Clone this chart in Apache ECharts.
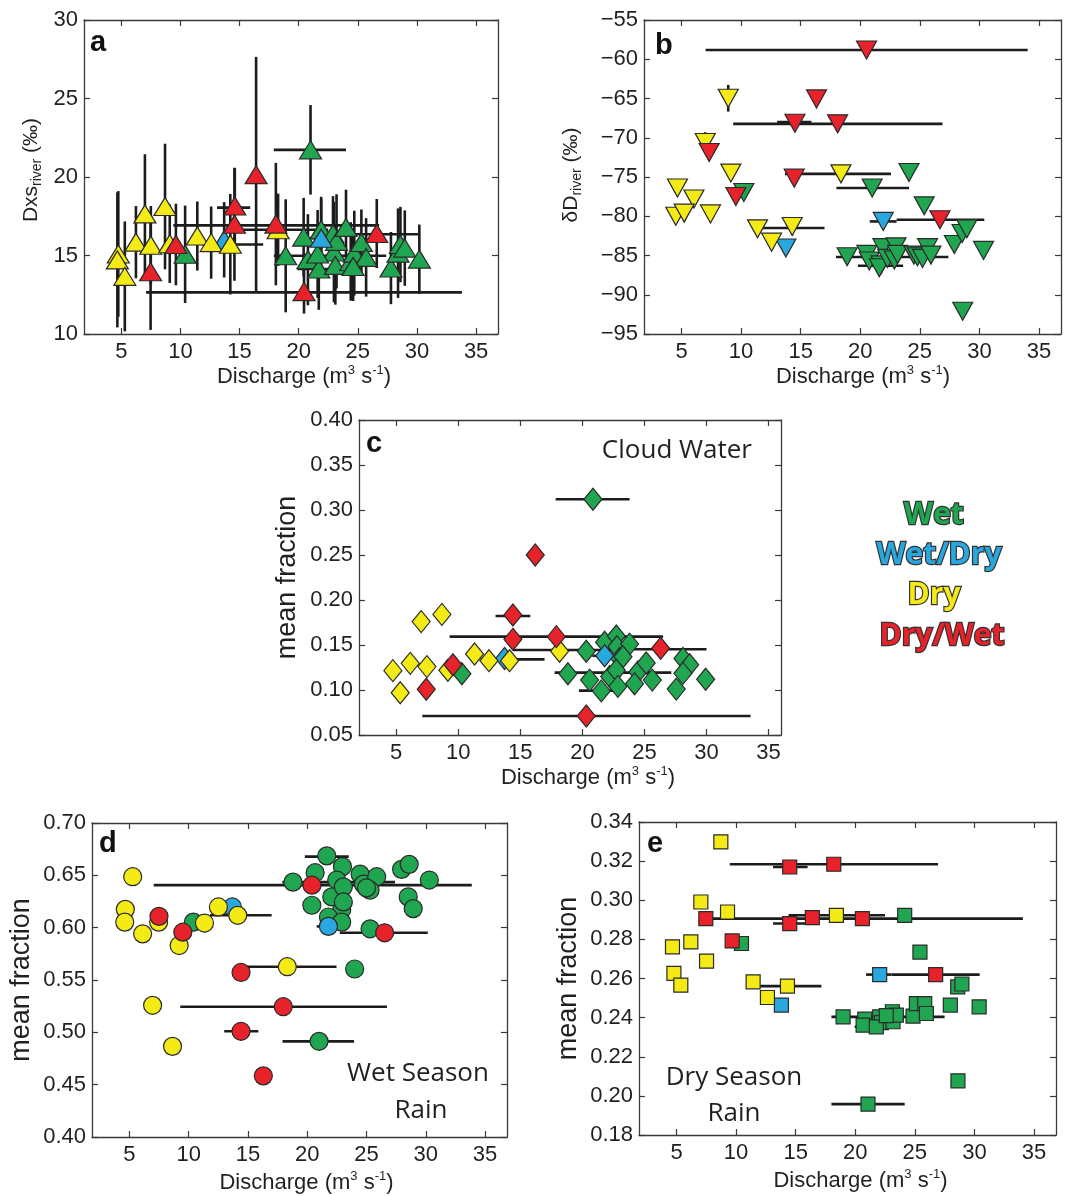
<!DOCTYPE html>
<html><head><meta charset="utf-8">
<script src="https://cdn.jsdelivr.net/npm/echarts@6/dist/echarts.min.js"></script>
<style>html,body{margin:0;padding:0;background:#fff}#c{width:1075px;height:1196px}</style>
</head><body><div id="c"></div>
<script>
// ---------------- DATA ----------------
const xTicks = [5, 10, 15, 20, 25, 30, 35];
const aYTicks = [10, 15, 20, 25, 30];
const bYTicks = [-95, -90, -85, -80, -75, -70, -65, -60, -55];
const cYTicks = [0.05, 0.10, 0.15, 0.20, 0.25, 0.30, 0.35, 0.40];
const dYTicks = [0.40, 0.45, 0.50, 0.55, 0.60, 0.65, 0.70];
const eYTicks = [0.18, 0.20, 0.22, 0.24, 0.26, 0.28, 0.30, 0.32, 0.34];
const categories = ['Wet', 'Wet/Dry', 'Dry', 'Dry/Wet'];

// Panel a: [discharge, Dxs, y-error half width]
const aWet = [[21.0,21.73,2.85],[10.4,15.08,3.1],[18.9,14.98,3.6],[20.42,16.17,2.5],[20.78,14.73,2.9],[21.7,14.14,2.6],[21.9,16.64,2.1],[22.9,16.38,2.4],[22.98,15.22,3.2],[23.1,14.37,2.5],[23.2,15.9,3.0],[24.0,16.79,2.4],[24.4,14.62,2.5],[24.7,15.15,2.7],[25.3,15.83,2.1],[25.7,14.88,2.5],[27.8,14.2,2.3],[28.4,15.15,2.85],[28.6,15.7,2.4],[28.97,15.47,2.4],[30.2,14.77,2.2],[21.6,15.1,2.8],[24.6,14.3,2.2]];
const aWetDry = [[13.7,16.0,2.4],[21.9,16.1,2.5]];
const aDry = [[4.75,15.1,4.0],[4.67,14.72,4.3],[5.3,13.67,3.5],[6.24,15.85,2.3],[7.0,17.65,3.8],[7.5,15.65,2.5],[8.7,18.12,4.0],[9.1,15.75,2.5],[11.43,16.24,2.2],[12.6,15.82,2.3],[14.22,15.72,3.2],[18.26,16.64,2.3]];
const aDryWet = [[7.48,13.96,3.7],[9.62,15.7,2.6],[14.6,18.15,2.4],[14.57,16.99,3.6],[18.07,17.0,3.9],[16.4,20.15,7.5],[20.45,12.7,1.4],[26.6,16.4,2.2]];
// horizontal error bars: [y, xLow, xHigh]
const aXErr = [[21.73,17.9,24.0],[12.65,7.1,33.8],[16.92,9.4,26.8],[16.64,14.4,22.5],[16.35,23.0,30.2],[18.05,13.1,15.9],[15.7,11.8,17.0],[14.98,17.9,27.4],[16.1,20.8,23.05],[14.14,19.9,23.6]];

// Panel b: [discharge, dD, y-error half width]
const bWet = [[10.23,-76.97,0],[24.09,-74.43,0],[21.0,-76.4,0],[25.37,-78.67,0],[27.9,-83.6,0],[28.55,-82.2,0],[28.95,-81.6,0],[30.35,-84.35,0],[28.6,-92.1,0],[18.9,-85.16,0.6],[20.56,-84.86,0],[20.76,-85.7,0],[21.74,-86.2,0],[21.6,-86.56,0],[21.9,-84.0,0],[22.3,-85.37,0],[22.86,-85.58,0],[23.0,-83.9,0],[23.14,-84.86,0],[24.5,-84.95,0],[24.8,-85.16,0],[25.23,-85.37,0],[25.65,-84.0,0],[25.93,-84.95,0]];
const bWetDry = [[13.76,-84.05,0],[21.93,-80.66,0]];
const bDry = [[8.92,-64.97,1.7],[6.99,-70.6,1.3],[9.14,-74.5,0],[4.66,-76.4,0.9],[6.04,-77.8,0],[4.52,-80.0,0],[5.22,-79.6,1.0],[7.43,-79.7,0],[11.38,-81.6,0],[14.29,-81.3,1.1],[12.56,-83.3,0],[18.38,-74.6,0]];
const bDryWet = [[20.53,-58.82,0],[16.33,-65.05,0],[14.52,-68.15,0],[18.1,-68.23,0],[7.32,-71.88,0],[14.46,-75.15,0],[9.56,-77.48,0],[26.69,-80.45,0]];
const bXErr = [[-58.82,7.02,34.05],[-68.0,13.03,15.9],[-68.23,9.34,26.9],[-74.6,13.68,22.58],[-76.4,18.0,24.1],[-80.66,20.8,23.05],[-80.45,23.05,30.41],[-81.5,11.6,17.0],[-85.2,17.96,27.4],[-86.3,19.8,23.6]];

// Panel c: cloud water mean fraction
const cWet = [[20.85,0.312],[10.29,0.118],[18.83,0.118],[20.31,0.143],[20.58,0.111],[21.52,0.099],[21.79,0.153],[22.73,0.160],[22.78,0.148],[23.8,0.151],[23.0,0.135],[23.27,0.137],[22.2,0.115],[22.73,0.122],[22.86,0.104],[24.47,0.120],[25.14,0.130],[24.2,0.107],[25.63,0.111],[28.1,0.135],[28.64,0.128],[28.1,0.1185],[27.56,0.101],[29.93,0.112]];
const cWetDry = [[13.73,0.135],[21.79,0.138]];
const cDry = [[4.73,0.1215],[5.32,0.097],[6.13,0.1296],[7.01,0.176],[7.47,0.126],[8.68,0.184],[9.16,0.122],[11.31,0.140],[12.47,0.1326],[14.13,0.1326],[18.16,0.143]];
const cDryWet = [[7.42,0.1008],[9.57,0.128],[14.4,0.1833],[14.4,0.1563],[16.2,0.250],[17.9,0.1593],[26.3,0.1463],[20.31,0.0711]];
const cXErr = [[0.312,17.84,23.8],[0.1822,13.0,15.8],[0.1593,9.3,26.5],[0.1445,14.4,22.6],[0.1452,23.0,30.0],[0.134,11.8,16.95],[0.138,20.8,23.0],[0.1193,17.76,27.16],[0.0993,19.72,23.27],[0.0711,7.1,33.55]];

// Panel d: wet season rain mean fraction
const dWet = [[21.0,0.4914],[10.4,0.6053],[18.8,0.6435],[20.67,0.6525],[20.39,0.6214],[21.65,0.6686],[22.97,0.6583],[22.49,0.6455],[22.07,0.6294],[22.91,0.6172],[21.79,0.6102],[22.91,0.6053],[24.46,0.6512],[24.74,0.6416],[25.86,0.6487],[25.3,0.6358],[25.0,0.638],[23.05,0.639],[27.96,0.6557],[28.6,0.6605],[28.52,0.6294],[28.94,0.6182],[30.3,0.6455],[25.3,0.5989],[24.0,0.5605],[23.05,0.6246]];
const dWetDry = [[13.69,0.6198],[21.79,0.6012]];
const dDry = [[5.28,0.6487],[4.66,0.6175],[4.61,0.6053],[6.12,0.5941],[7.47,0.6053],[9.2,0.5829],[11.34,0.6044],[12.51,0.6198],[14.14,0.6118],[18.32,0.5627],[6.96,0.5258],[8.64,0.4866]];
const dDryWet = [[7.5,0.6108],[9.51,0.5957],[14.42,0.5572],[14.42,0.501],[17.98,0.5245],[16.3,0.4584],[20.4,0.6406],[26.53,0.5951]];
const dXErr = [[0.6679,19.8,23.5],[0.6406,7.05,33.88],[0.6435,17.9,27.4],[0.6118,11.8,17.0],[0.6012,20.8,23.05],[0.5951,22.75,30.17],[0.5627,14.34,22.47],[0.5245,9.29,26.73],[0.501,13.0,15.88],[0.4914,17.92,23.95]];

// Panel e: dry season rain mean fraction
const eWet = [[10.45,0.2779],[24.15,0.2923],[25.43,0.2735],[28.6,0.2557],[28.95,0.2572],[27.98,0.2464],[30.4,0.2455],[28.62,0.2077],[21.07,0.1958],[18.98,0.2404],[20.8,0.2392],[20.66,0.2362],[22.05,0.2404],[22.19,0.2374],[21.77,0.2353],[23.12,0.243],[23.17,0.2379],[23.45,0.2413],[22.6,0.241],[24.85,0.2408],[25.13,0.2472],[25.83,0.2472],[25.97,0.2421]];
const eWetDry = [[22.05,0.262],[13.8,0.2464]];
const eDry = [[8.72,0.3298],[7.04,0.2991],[9.28,0.294],[6.2,0.2787],[4.66,0.2762],[7.52,0.2689],[4.78,0.2626],[5.36,0.2566],[11.43,0.2583],[14.31,0.2561],[12.63,0.2503],[18.42,0.2923]];
const eDryWet = [[14.5,0.317],[18.2,0.3184],[7.46,0.2906],[14.5,0.2881],[16.4,0.2911],[20.6,0.2906],[9.67,0.2792],[26.75,0.262]];
const eXErr = [[0.317,13.1,16.0],[0.3184,9.47,26.95],[0.2906,7.05,34.07],[0.2923,14.4,22.5],[0.2881,13.1,16.0],[0.262,20.9,23.05],[0.262,23.05,30.44],[0.2561,11.57,17.16],[0.2404,18.0,27.5],[0.2353,19.95,23.73],[0.1958,18.0,24.15]];

// ---------------- STYLE / LAYOUT ----------------
const FONT = '"Liberation Sans", Arial, Helvetica, sans-serif';
const HFONT = '"Open Sans", "Noto Sans", sans-serif';
const TXT = '#231f20';
const AX = '#3a3a3a';
const BAR = '#1c1c1c';
const COLORS = {'Wet':'#20a550','Wet/Dry':'#29a8df','Dry':'#f4eb16','Dry/Wet':'#e8222a'};
const xName = '{n|Discharge (m}{p|3}{n| s}{p|-1}{n|)}';
const xRich = {
  n: {fontFamily: FONT, fontSize: 22, lineHeight: 26, color: TXT},
  p: {fontFamily: FONT, fontSize: 13, lineHeight: 13, color: TXT, verticalAlign: 'top'}
};
const subRich = {
  m: {fontFamily: FONT, fontSize: 21, lineHeight: 25, color: TXT},
  s: {fontFamily: FONT, fontSize: 14, lineHeight: 14, color: TXT, verticalAlign: 'bottom'}
};
const fmt2 = v => v.toFixed(2);
const fmtNeg = v => (v < 0 ? '\u2212' + Math.abs(v) : String(v));

const panels = [
  {grid:{left:84,top:20,width:414,height:314}, xmin:1.85, xmax:36.85, ymin:10, ymax:30, yTicks:aYTicks, fmt:v=>String(v),
   symbol:'triangle', size:[22,18], rot:0, sets:[aWet,aWetDry,aDry,aDryWet], xErr:aXErr, vert:true,
   yName:'{m|Dxs}{s|river}{m| (\u2030)}', yRich:subRich, yGap:40, yPad:[0,0,0,14], xGap:30, xPad:[0,0,0,26]},
  {grid:{left:644,top:20,width:417,height:314}, xmin:1.85, xmax:36.85, ymin:-95, ymax:-55, yTicks:bYTicks, fmt:fmtNeg,
   symbol:'triangle', size:[20,18], rot:180, sets:[bWet,bWetDry,bDry,bDryWet], xErr:bXErr, vert:true,
   yName:'{m|\u03b4D}{s|river}{m| (\u2030)}', yRich:subRich, yGap:60, yPad:[0,0,0,4], xGap:30, xPad:[0,0,0,21]},
  {grid:{left:359,top:420,width:422,height:315}, xmin:2, xmax:36, ymin:0.05, ymax:0.40, yTicks:cYTicks, fmt:fmt2,
   symbol:'diamond', size:[18,22], rot:0, sets:[cWet,cWetDry,cDry,cDryWet], xErr:cXErr, vert:false,
   yName:'mean fraction', yRich:null, yGap:58, yPad:[0,0,0,0], xGap:30, xPad:[0,0,0,36]},
  {grid:{left:92,top:823,width:415,height:314}, xmin:1.85, xmax:36.85, ymin:0.40, ymax:0.70, yTicks:dYTicks, fmt:fmt2,
   symbol:'circle', size:18, rot:0, sets:[dWet,dWetDry,dDry,dDryWet], xErr:dXErr, vert:false,
   yName:'mean fraction', yRich:null, yGap:57, yPad:[0,0,0,0], xGap:33, xPad:[0,0,0,14]},
  {grid:{left:639,top:822,width:417,height:313}, xmin:1.85, xmax:36.85, ymin:0.18, ymax:0.34, yTicks:eYTicks, fmt:fmt2,
   symbol:'rect', size:14, rot:0, sets:[eWet,eWetDry,eDry,eDryWet], xErr:eXErr, vert:false,
   yName:'mean fraction', yRich:null, yGap:57, yPad:[0,0,0,0], xGap:33, xPad:[0,0,0,26]}
];

const grids = [], xAxes = [], yAxes = [], series = [];
panels.forEach((p, i) => {
  grids.push(Object.assign({show:false}, p.grid));
  const tickBase = {show:true, inside:true, length:6, lineStyle:{color:AX, width:1.2}};
  const lineBase = {show:true, onZero:false, lineStyle:{color:AX, width:1.3}};
  xAxes.push({type:'value', gridIndex:i, position:'bottom', min:p.xmin, max:p.xmax,
    axisLine:lineBase, axisTick:Object.assign({customValues:xTicks}, tickBase),
    axisLabel:{customValues:xTicks, fontFamily:FONT, fontSize:22, color:TXT, margin:7},
    splitLine:{show:false}, name:xName, nameLocation:'middle', nameGap:p.xGap,
    nameTextStyle:{fontFamily:FONT, fontSize:22, color:TXT, rich:xRich, padding:p.xPad}});
  xAxes.push({type:'value', gridIndex:i, position:'top', min:p.xmin, max:p.xmax,
    axisLine:lineBase, axisTick:Object.assign({customValues:xTicks}, tickBase),
    axisLabel:{show:false}, splitLine:{show:false}});
  const yNameStyle = p.yRich ? {fontFamily:FONT, fontSize:21, color:TXT, rich:p.yRich, padding:p.yPad}
                             : {fontFamily:FONT, fontSize:27, color:TXT, padding:p.yPad};
  yAxes.push({type:'value', gridIndex:i, position:'left', min:p.ymin, max:p.ymax,
    axisLine:lineBase, axisTick:Object.assign({customValues:p.yTicks}, tickBase),
    axisLabel:{customValues:p.yTicks, formatter:p.fmt, fontFamily:FONT, fontSize:22, color:TXT, margin:6},
    splitLine:{show:false}, name:p.yName, nameLocation:'middle', nameGap:p.yGap, nameTextStyle:yNameStyle});
  yAxes.push({type:'value', gridIndex:i, position:'right', min:p.ymin, max:p.ymax,
    axisLine:lineBase, axisTick:Object.assign({customValues:p.yTicks}, tickBase),
    axisLabel:{show:false}, splitLine:{show:false}});

  // horizontal error bars
  series.push({type:'custom', xAxisIndex:2*i, yAxisIndex:2*i, data:p.xErr, encode:{x:[1,2], y:0},
    z:1, silent:true, clip:false,
    renderItem:(params, api) => {
      const y = api.value(0);
      const a = api.coord([api.value(1), y]);
      const b = api.coord([api.value(2), y]);
      return {type:'line', shape:{x1:a[0], y1:a[1], x2:b[0], y2:b[1]}, style:{stroke:BAR, lineWidth:2.6}};
    }});
  // vertical error bars
  if (p.vert) {
    const vdata = [];
    p.sets.forEach(s => s.forEach(d => { if (d[2] > 0) vdata.push([d[0], d[1] - d[2], d[1] + d[2]]); }));
    series.push({type:'custom', xAxisIndex:2*i, yAxisIndex:2*i, data:vdata, encode:{x:0, y:[1,2]},
      z:1, silent:true, clip:false,
      renderItem:(params, api) => {
        const x = api.value(0);
        const a = api.coord([x, api.value(1)]);
        const b = api.coord([x, api.value(2)]);
        return {type:'line', shape:{x1:a[0], y1:a[1], x2:b[0], y2:b[1]}, style:{stroke:BAR, lineWidth:2.6}};
      }});
  }
  p.sets.forEach((s, k) => {
    series.push({type:'scatter', name:categories[k], xAxisIndex:2*i, yAxisIndex:2*i,
      data:s.map(d => [d[0], d[1]]), symbol:p.symbol, symbolSize:p.size, symbolRotate:p.rot,
      itemStyle:{color:COLORS[categories[k]], borderColor:'#2a2a2a', borderWidth:1.2, opacity:1},
      z:3 + k, silent:true});
  });
});

const letters = [['a',90,43],['b',655,46],['c',366,444],['d',99,844],['e',647,844]];
const graphic = [];
letters.forEach(l => graphic.push({type:'text', x:l[1], y:l[2], z:10,
  style:{text:l[0], fill:'#111', font:'bold 29px ' + FONT, align:'left', verticalAlign:'middle'}}));
const notes = [['Cloud Water',752,451,'right'],['Wet Season',418,1074,'center'],['Rain',421,1111,'center'],
               ['Dry Season',734,1078,'center'],['Rain',734,1114,'center']];
notes.forEach(n => graphic.push({type:'text', x:n[1], y:n[2], z:10,
  style:{text:n[0], fill:TXT, font:'26px ' + HFONT, align:n[3], verticalAlign:'middle'}}));
const legendPos = [[934,515],[939,555],[934,595],[942,636]];
categories.forEach((c, k) => graphic.push({type:'text', x:legendPos[k][0], y:legendPos[k][1], z:10,
  style:{text:c, fill:COLORS[c], font:'bold 30px ' + HFONT, align:'center', verticalAlign:'middle',
         stroke:'#333', lineWidth:2.4, strokeFirst:true}}));

const chart = echarts.init(document.getElementById('c'), null, {renderer:'canvas'});
chart.setOption({backgroundColor:'#fff', animation:false, grid:grids, xAxis:xAxes, yAxis:yAxes, series, graphic});
</script></body></html>
